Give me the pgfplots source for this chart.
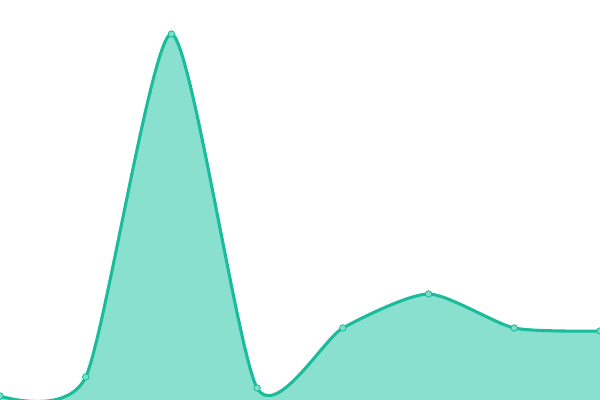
\documentclass[border=0pt]{standalone}
\usepackage{pgfplots}
\pgfplotsset{compat=1.18}
\definecolor{teal1}{HTML}{1ABC9C}
\definecolor{tealfill}{HTML}{8AE0CF}
\definecolor{tealmark}{HTML}{7FDCC9}

\begin{document}
\begin{tikzpicture}
\begin{axis}[
    name=ax,
    scale only axis,
    width=15cm, height=10cm,
    xmin=0, xmax=7,
    ymin=0, ymax=400,
    hide axis,
    clip marker paths=true,
]
    % area
    \addplot[draw=none, fill=tealfill, smooth, tension=0.4] coordinates {
        (0,4) (1,23) (2,366) (3,12) (4,72) (5,106) (6,72) (7,69)
    } \closedcycle;
    % line with markers
    \addplot[color=teal1, line width=2.2pt, smooth, tension=0.4,
        mark=*, mark size=2.3pt,
        mark options={fill=tealmark, draw=teal1, line width=0.6pt}] coordinates {
        (0,4) (1,23) (2,366) (3,12) (4,72) (5,106) (6,72) (7,69)
    };
\end{axis}
\path (ax.south west) rectangle (ax.north east);
\end{tikzpicture}
\end{document}
